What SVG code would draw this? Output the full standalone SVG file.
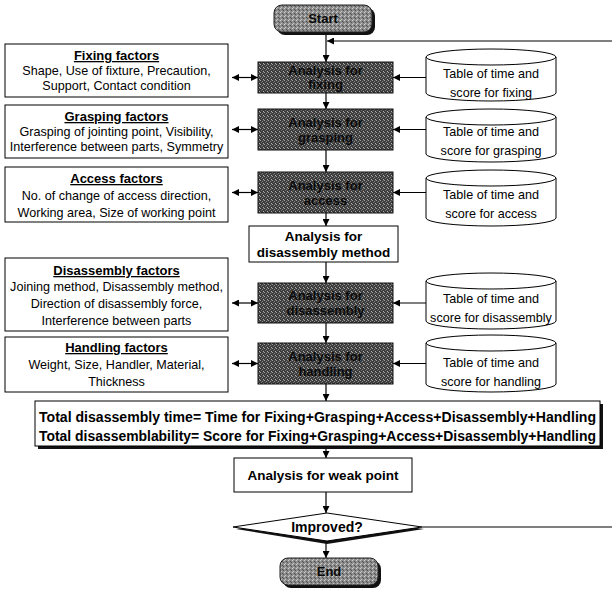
<svg xmlns="http://www.w3.org/2000/svg" width="612" height="591" viewBox="0 0 612 591">
  <style>
    .box { fill: #fff; stroke: #000; stroke-width: 1; }
    .dark { fill: url(#grainDark); stroke: #111; stroke-width: 1; }
    .term { fill: url(#grainLight); stroke: #222; stroke-width: 1; }
    .shadow { fill: #111; }
    .t { font-family: "Liberation Sans", Arial, sans-serif; font-size: 12.6px; fill: #000; text-anchor: middle; }
    .h { font-family: "Liberation Sans", Arial, sans-serif; font-size: 13px; font-weight: bold; fill: #000; text-anchor: middle; text-decoration: underline; }
    .b { font-family: "Liberation Sans", Arial, sans-serif; font-size: 13.5px; font-weight: bold; fill: #000; text-anchor: middle; }
    .tot { font-family: "Liberation Sans", Arial, sans-serif; font-size: 14px; font-weight: bold; fill: #000; }
    .dk { font-family: "Liberation Sans", Arial, sans-serif; font-size: 13px; font-weight: bold; fill: #0a0a0a; text-anchor: middle; }
    .ln { fill: none; stroke: #000; stroke-width: 1.2; }
  </style>
  <defs>
    <pattern id="grainDark" width="4" height="4" patternUnits="userSpaceOnUse">
      <rect width="4" height="4" fill="#3c3c3c"/>
      <rect x="0" y="0" width="1" height="1" fill="#a0a0a0"/>
      <rect x="2" y="1" width="1" height="1" fill="#8a8a8a"/>
      <rect x="1" y="2" width="1" height="1" fill="#6e6e6e"/>
      <rect x="3" y="3" width="1" height="1" fill="#b0b0b0"/>
      <rect x="3" y="0" width="1" height="1" fill="#555"/>
    </pattern>
    <pattern id="grainLight" width="4" height="4" patternUnits="userSpaceOnUse">
      <rect width="4" height="4" fill="#8c8c8c"/>
      <rect x="0" y="0" width="1" height="1" fill="#d0d0d0"/>
      <rect x="2" y="1" width="1" height="1" fill="#4a4a4a"/>
      <rect x="1" y="3" width="1" height="1" fill="#c4c4c4"/>
      <rect x="3" y="2" width="1" height="1" fill="#555"/>
    </pattern>
    <marker id="ah" viewBox="0 0 10 10" refX="10" refY="5" markerWidth="7" markerHeight="7" markerUnits="userSpaceOnUse" orient="auto-start-reverse">
      <path d="M0,0 L10,5 L0,10 z" fill="#000"/>
    </marker>
  </defs>

  <!-- connectors -->
  <g id="connectors">
    <!-- main vertical flow -->
    <line class="ln" x1="326" y1="33" x2="326" y2="62" marker-end="url(#ah)"/>
    <line class="ln" x1="326" y1="93" x2="326" y2="109" marker-end="url(#ah)"/>
    <line class="ln" x1="326" y1="150" x2="326" y2="172" marker-end="url(#ah)"/>
    <line class="ln" x1="326" y1="213" x2="326" y2="226" marker-end="url(#ah)"/>
    <line class="ln" x1="326" y1="262" x2="326" y2="283" marker-end="url(#ah)"/>
    <line class="ln" x1="326" y1="323" x2="326" y2="343" marker-end="url(#ah)"/>
    <line class="ln" x1="326" y1="384" x2="326" y2="401" marker-end="url(#ah)"/>
    <line class="ln" x1="326" y1="449" x2="326" y2="458" marker-end="url(#ah)"/>
    <line class="ln" x1="326" y1="492" x2="326" y2="513" marker-end="url(#ah)"/>
    <line class="ln" x1="326" y1="542" x2="326" y2="558" marker-end="url(#ah)"/>
    <!-- feedback loop -->
    <line class="ln" x1="612" y1="41" x2="327" y2="41" marker-end="url(#ah)"/>
    <line class="ln" x1="422" y1="527" x2="612" y2="527"/>
    <!-- factor boxes to analysis steps -->
    <line class="ln" x1="232" y1="77.5" x2="258" y2="77.5" marker-start="url(#ah)" marker-end="url(#ah)"/>
    <line class="ln" x1="232" y1="129.5" x2="258" y2="129.5" marker-start="url(#ah)" marker-end="url(#ah)"/>
    <line class="ln" x1="232" y1="192.5" x2="258" y2="192.5" marker-start="url(#ah)" marker-end="url(#ah)"/>
    <line class="ln" x1="232" y1="303" x2="258" y2="303" marker-start="url(#ah)" marker-end="url(#ah)"/>
    <line class="ln" x1="232" y1="363.5" x2="258" y2="363.5" marker-start="url(#ah)" marker-end="url(#ah)"/>
    <!-- tables to analysis steps -->
    <line class="ln" x1="426" y1="77.5" x2="393" y2="77.5" marker-end="url(#ah)"/>
    <line class="ln" x1="426" y1="129.5" x2="393" y2="129.5" marker-end="url(#ah)"/>
    <line class="ln" x1="426" y1="192.5" x2="393" y2="192.5" marker-end="url(#ah)"/>
    <line class="ln" x1="426" y1="303" x2="393" y2="303" marker-end="url(#ah)"/>
    <line class="ln" x1="426" y1="363.5" x2="393" y2="363.5" marker-end="url(#ah)"/>
  </g>

  <!-- terminals -->
  <g id="start">
    <rect class="shadow" x="277" y="8" width="98" height="27" rx="8"/>
    <rect class="term" x="274" y="5" width="98" height="27" rx="8"/>
    <text class="dk" x="323" y="23">Start</text>
  </g>
  <g id="end">
    <rect class="shadow" x="283" y="561" width="98" height="27" rx="8"/>
    <rect class="term" x="280" y="558" width="98" height="27" rx="8"/>
    <text class="dk" x="329" y="576">End</text>
  </g>

  <!-- factor boxes -->
  <g id="fixing-factors">
    <rect class="box" x="5" y="44" width="223" height="53"/>
    <text class="h" x="116.5" y="60">Fixing factors</text>
    <text class="t" x="116.5" y="75">Shape, Use of fixture, Precaution,</text>
    <text class="t" x="116.5" y="90">Support, Contact condition</text>
  </g>
  <g id="grasping-factors">
    <rect class="box" x="5" y="105" width="223" height="53"/>
    <text class="h" x="116.5" y="121">Grasping factors</text>
    <text class="t" x="116.5" y="136">Grasping of jointing point, Visibility,</text>
    <text class="t" x="116.5" y="151">Interference between parts, Symmetry</text>
  </g>
  <g id="access-factors">
    <rect class="box" x="5" y="167" width="223" height="55"/>
    <text class="h" x="116.5" y="183">Access factors</text>
    <text class="t" x="116.5" y="200">No. of change of access direction,</text>
    <text class="t" x="116.5" y="217">Working area, Size of working point</text>
  </g>
  <g id="disassembly-factors">
    <rect class="box" x="5" y="258" width="223" height="73"/>
    <text class="h" x="116.5" y="275">Disassembly factors</text>
    <text class="t" x="116.5" y="291">Joining method, Disassembly method,</text>
    <text class="t" x="116.5" y="308">Direction of disassembly force,</text>
    <text class="t" x="116.5" y="325">Interference between parts</text>
  </g>
  <g id="handling-factors">
    <rect class="box" x="5" y="337" width="223" height="55"/>
    <text class="h" x="116.5" y="352">Handling factors</text>
    <text class="t" x="116.5" y="369">Weight, Size, Handler, Material,</text>
    <text class="t" x="116.5" y="386">Thickness</text>
  </g>

  <!-- analysis steps -->
  <g id="step-fixing">
    <rect class="dark" x="258" y="62" width="135" height="31"/>
    <text class="dk" x="325.5" y="75">Analysis for</text>
    <text class="dk" x="325.5" y="89">fixing</text>
  </g>
  <g id="step-grasping">
    <rect class="dark" x="258" y="109" width="135" height="41"/>
    <text class="dk" x="325.5" y="127">Analysis for</text>
    <text class="dk" x="325.5" y="142">grasping</text>
  </g>
  <g id="step-access">
    <rect class="dark" x="258" y="172" width="135" height="41"/>
    <text class="dk" x="325.5" y="190">Analysis for</text>
    <text class="dk" x="325.5" y="205">access</text>
  </g>
  <g id="step-method">
    <rect class="box" x="249" y="226" width="149" height="36"/>
    <text class="b" x="323.5" y="241">Analysis for</text>
    <text class="b" x="323.5" y="257">disassembly method</text>
  </g>
  <g id="step-disassembly">
    <rect class="dark" x="258" y="283" width="135" height="40"/>
    <text class="dk" x="325.5" y="300">Analysis for</text>
    <text class="dk" x="325.5" y="315">disassembly</text>
  </g>
  <g id="step-handling">
    <rect class="dark" x="258" y="343" width="135" height="41"/>
    <text class="dk" x="325.5" y="361">Analysis for</text>
    <text class="dk" x="325.5" y="376">handling</text>
  </g>

  <!-- score tables -->
  <g id="table-fixing">
    <path class="box" d="M426,57 V93 A65,8 0 0 0 556,93 V57"/>
    <ellipse class="box" cx="491" cy="57" rx="65" ry="8"/>
    <text class="t" x="491" y="78">Table of time and</text>
    <text class="t" x="491" y="97">score for fixing</text>
  </g>
  <g id="table-grasping">
    <path class="box" d="M426,117 V154 A65,8 0 0 0 556,154 V117"/>
    <ellipse class="box" cx="491" cy="117" rx="65" ry="8"/>
    <text class="t" x="491" y="136">Table of time and</text>
    <text class="t" x="491" y="155">score for grasping</text>
  </g>
  <g id="table-access">
    <path class="box" d="M426,178 V218 A65,8 0 0 0 556,218 V178"/>
    <ellipse class="box" cx="491" cy="178" rx="65" ry="8"/>
    <text class="t" x="491" y="199">Table of time and</text>
    <text class="t" x="491" y="218">score for access</text>
  </g>
  <g id="table-disassembly">
    <path class="box" d="M426,281 V321 A65,8 0 0 0 556,321 V281"/>
    <ellipse class="box" cx="491" cy="281" rx="65" ry="8"/>
    <text class="t" x="491" y="303">Table of time and</text>
    <text class="t" x="491" y="322">score for disassembly</text>
  </g>
  <g id="table-handling">
    <path class="box" d="M426,343 V384 A65,8 0 0 0 556,384 V343"/>
    <ellipse class="box" cx="491" cy="343" rx="65" ry="8"/>
    <text class="t" x="491" y="367">Table of time and</text>
    <text class="t" x="491" y="386">score for handling</text>
  </g>

  <!-- totals -->
  <g id="totals">
    <rect class="shadow" x="38" y="404" width="565" height="45"/>
    <rect class="box" x="35" y="401" width="565" height="45"/>
    <text class="tot" x="39" y="422" textLength="557" lengthAdjust="spacingAndGlyphs">Total disassembly time= Time for Fixing+Grasping+Access+Disassembly+Handling</text>
    <text class="tot" x="39" y="441" textLength="557" lengthAdjust="spacingAndGlyphs">Total disassemblability= Score for Fixing+Grasping+Access+Disassembly+Handling</text>
  </g>

  <g id="weak-point">
    <rect class="box" x="234" y="458" width="178" height="34"/>
    <text class="b" x="323" y="480">Analysis for weak point</text>
  </g>

  <g id="improved">
    <polygon class="shadow" points="236,529 327,516 424,529 327,544"/>
    <polygon class="box" points="233,527 327,513 422,527 327,541"/>
    <text class="b" x="327" y="532" style="font-size:14px">Improved?</text>
  </g>
</svg>
